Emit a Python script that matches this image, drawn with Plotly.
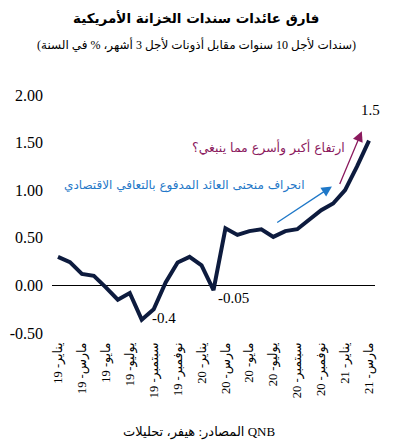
import plotly.graph_objects as go

month_names = ["يناير", "فبراير", "مارس", "أبريل", "مايو", "يونيو",
               "يوليو", "أغسطس", "سبتمبر", "أكتوبر", "نوفمبر", "ديسمبر"]
years = ["19", "20", "21"]
months = [f"{m}- {y}" for y in years for m in month_names][:27]

spread = [0.30, 0.245, 0.12, 0.10, -0.02, -0.15, -0.08, -0.36, -0.25, 0.03, 0.24, 0.30,
          0.21, -0.05, 0.60, 0.53, 0.57, 0.59, 0.51, 0.57, 0.59, 0.69, 0.79, 0.86,
          1.00, 1.25, 1.52]

tick_idx = list(range(0, 27, 2))
tick_text = [months[i] for i in tick_idx]
y_ticks = [-0.5, 0.0, 0.5, 1.0, 1.5, 2.0]
y_tick_text = ["-0.50", "0.00", "0.50", "1.00", "1.50", "2.00"]

title = "فارق عائدات سندات الخزانة الأمريكية"
subtitle = "(سندات لأجل 10 سنوات مقابل أذونات لأجل 3 أشهر، % في السنة)"
source = "المصادر: هيفر، تحليلات QNB"
note_purple = "ارتفاع أكبر وأسرع مما ينبغي؟"
note_blue = "انحراف منحنى العائد المدفوع بالتعافي الاقتصادي"

FONT = "Liberation Serif, DejaVu Sans, serif"
AFONT = "DejaVu Sans, Liberation Sans, sans-serif"
NAVY = "#0d1b3e"
PURPLE = "#8b1a5e"
BLUE = "#1f78c8"

x_idx = list(range(len(spread)))

fig = go.Figure()
fig.add_trace(go.Scatter(x=x_idx, y=spread, mode="lines",
                         line=dict(color=NAVY, width=4), hoverinfo="skip"))

anns = []
anns.append(dict(x=0.446, y=1.325, xref="paper", yref="paper", text=f"<b>{title}</b>",
                 showarrow=False, font=dict(family=AFONT, size=13.5, color="black"),
                 xanchor="center", yanchor="middle"))
anns.append(dict(x=0.446, y=1.208, xref="paper", yref="paper", text=subtitle,
                 showarrow=False, font=dict(family=FONT, size=12, color="black"),
                 xanchor="center", yanchor="middle"))
anns.append(dict(x=0.455, y=-0.415, xref="paper", yref="paper", text=source,
                 showarrow=False, font=dict(family=FONT, size=13, color="black"),
                 xanchor="center", yanchor="middle"))

# data labels
i_min = spread.index(min(spread[:12]))
anns.append(dict(x=i_min, y=spread[i_min], text="-0.4", showarrow=False,
                 xanchor="left", yanchor="middle", xshift=8, yshift=2,
                 font=dict(family=FONT, size=15, color="black")))
i_feb = 13
anns.append(dict(x=i_feb, y=spread[i_feb], text="-0.05", showarrow=False,
                 xanchor="left", yanchor="middle", xshift=2, yshift=-8,
                 font=dict(family=FONT, size=15, color="black")))
i_last = len(spread) - 1
anns.append(dict(x=i_last, y=spread[i_last], text="1.5", showarrow=False,
                 xanchor="center", yanchor="middle", xshift=1, yshift=31,
                 font=dict(family=FONT, size=15, color="black")))

# arrows
anns.append(dict(x=25.4, y=1.62, ax=23.5, ay=1.05, axref="x", ayref="y",
                 xref="x", yref="y", text="", showarrow=True, arrowhead=2,
                 arrowsize=1.6, arrowwidth=1.3, arrowcolor=PURPLE))
anns.append(dict(x=24.2, y=1.45, text=note_purple, showarrow=False,
                 xanchor="right", yanchor="middle",
                 font=dict(family=AFONT, size=12.5, color=PURPLE)))
anns.append(dict(x=22.9, y=1.04, ax=18.2, ay=0.65, axref="x", ayref="y",
                 xref="x", yref="y", text="", showarrow=True, arrowhead=2,
                 arrowsize=1.6, arrowwidth=1.3, arrowcolor=BLUE))
anns.append(dict(x=20.8, y=1.05, text=note_blue, showarrow=False,
                 xanchor="right", yanchor="middle",
                 font=dict(family=AFONT, size=12, color=BLUE)))

fig.update_layout(
    width=385, height=439,
    margin=dict(l=44, r=18, t=87, b=114, autoexpand=False),
    paper_bgcolor="white", plot_bgcolor="white",
    showlegend=False,
    annotations=anns,
    font=dict(family=FONT, size=14, color="black"),
)
fig.update_xaxes(range=[-0.5, 26.5], tickmode="array", tickvals=tick_idx, ticktext=tick_text,
                 tickangle=-90, showgrid=False, showline=False, zeroline=False,
                 ticks="", ticklabelstandoff=6, automargin=False,
                 tickfont=dict(family=FONT, size=12.5, color="black"))
fig.update_yaxes(range=[-0.5, 2.0], tickmode="array", tickvals=y_ticks, ticktext=y_tick_text,
                 showgrid=False, showline=False, zeroline=True, zerolinecolor="black",
                 zerolinewidth=1.2, ticks="", ticklabelstandoff=8, automargin=False,
                 tickfont=dict(family=FONT, size=16, color="black"))

fig.write_html("out.html")
